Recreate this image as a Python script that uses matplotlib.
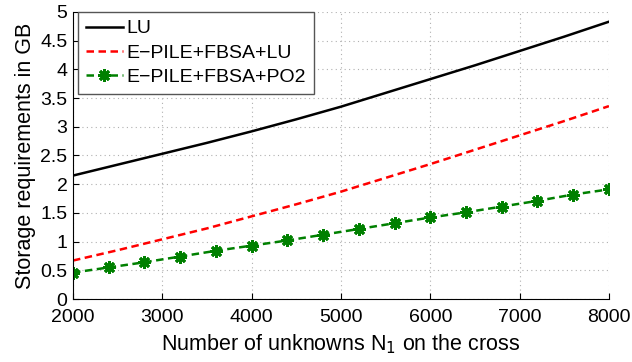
import numpy as np
import matplotlib.pyplot as plt

# data
n_line = [2000, 2500, 3000, 3500, 4000, 4500, 5000, 5500, 6000, 6500, 7000, 7500, 8000]
lu = [2.15, 2.34, 2.53, 2.72, 2.92, 3.13, 3.35, 3.59, 3.83, 4.07, 4.32, 4.57, 4.83]
pile_lu = [0.67, 0.85, 1.04, 1.23, 1.44, 1.65, 1.87, 2.11, 2.35, 2.60, 2.85, 3.10, 3.36]

n_po2 = [2000, 2400, 2800, 3200, 3600, 4000, 4400, 4800,
         5200, 5600, 6000, 6400, 6800, 7200, 7600, 8000]
pile_po2 = [0.46, 0.55, 0.64, 0.74, 0.84, 0.93, 1.02, 1.12,
            1.22, 1.32, 1.42, 1.51, 1.61, 1.71, 1.82, 1.91]

plt.rcParams['font.family'] = ['Liberation Sans', 'DejaVu Sans']

fig = plt.figure(figsize=(6.32, 3.62), dpi=100)
ax = fig.add_axes([0.1155, 0.174, 0.848, 0.793])

ax.plot(n_line, lu, color='black', linewidth=1.8, label='LU')
ax.plot(n_line, pile_lu, color='red', linestyle='--', linewidth=1.8,
        dashes=(3, 1.8), label='E\u2212PILE+FBSA+LU')
ax.plot(n_po2, pile_po2, color=(0, 0.5, 0), linestyle='--', linewidth=1.8,
        dashes=(3, 1.8), marker=(8, 2, 0), markersize=9, markeredgewidth=2,
        label='E\u2212PILE+FBSA+PO2')

ax.set_xlim(2000, 8000)
ax.set_ylim(0, 5)
ax.set_xticks(np.arange(2000, 8001, 1000))
ax.set_yticks(np.arange(0, 5.01, 0.5))
ax.set_yticklabels(['0', '0.5', '1', '1.5', '2', '2.5', '3', '3.5', '4', '4.5', '5'])

ax.grid(True, linestyle=(0, (1, 3)), color='#b0b0b0', linewidth=0.8)
ax.spines['top'].set_visible(False)
ax.spines['right'].set_visible(False)
ax.tick_params(direction='in', labelsize=14, length=4)
ax.tick_params(axis='x', pad=7)
ax.tick_params(axis='y', pad=4)

ax.set_xlabel('Number of unknowns N$_1$ on the cross', fontsize=15.5, labelpad=5)
ax.set_ylabel('Storage requirements in GB', fontsize=15.5, labelpad=3)

ax.legend(loc='upper left', bbox_to_anchor=(78 / 632, 1 - 12 / 362),
          bbox_transform=fig.transFigure, borderaxespad=0,
          fontsize=14, fancybox=False, edgecolor='#555555',
          framealpha=1, handlelength=1.9, handletextpad=0.2,
          borderpad=0.4, labelspacing=0.35)

fig.savefig('out.png', dpi=100)
